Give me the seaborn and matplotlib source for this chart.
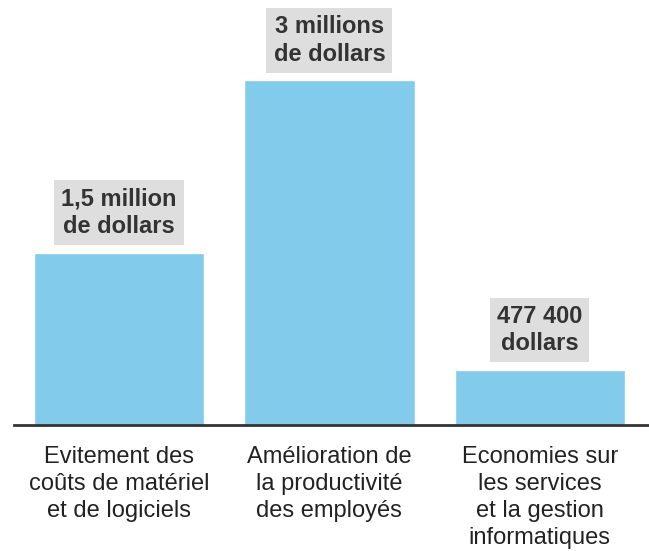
import matplotlib
matplotlib.use("Agg")
import matplotlib.pyplot as plt
import seaborn as sns
import pandas as pd

# data
categories = [
    "Evitement des\ncoûts de matériel\net de logiciels",
    "Amélioration de\nla productivité\ndes employés",
    "Economies sur\nles services\net la gestion\ninformatiques",
]
values = [1500000, 3000000, 477400]
value_labels = ["1,5 million\nde dollars", "3 millions\nde dollars", "477 400\ndollars"]

bar_color = "#82CBEB"
box_color = "#DEDEDE"
text_color = "#333333"

sns.set_theme(style="white")
plt.rcParams["font.family"] = ["Liberation Sans", "DejaVu Sans"]

df = pd.DataFrame({"category": categories, "value": values})

fig = plt.figure(figsize=(6.49, 5.51), dpi=100)
ax = fig.add_axes([14 / 649, 126 / 551, 635 / 649, 425 / 551])

sns.barplot(data=df, x="category", y="value", color=bar_color, saturation=1,
            width=0.81, ax=ax)

ax.set_xlim(-0.5, 2.52)
ax.set_ylim(0, 3.70e6)

# value labels in grey boxes above bars
for i, (v, lab) in enumerate(zip(values, value_labels)):
    ax.annotate(lab, xy=(i, v), xytext=(0, 40), textcoords="offset pixels",
                ha="center", va="center", ma="center", fontsize=17,
                fontweight="bold", color=text_color, linespacing=1.25,
                bbox=dict(boxstyle="square,pad=0.3", fc=box_color, ec="none"))

# axis cosmetics
for side in ["top", "right", "left"]:
    ax.spines[side].set_visible(False)
ax.spines["bottom"].set_color(text_color)
ax.spines["bottom"].set_linewidth(2)
ax.set_yticks([])
ax.set_xlabel("")
ax.set_ylabel("")
ax.set_xticks(range(len(categories)))
ax.set_xticklabels(categories, fontsize=17, color="#222222", linespacing=1.3)
ax.tick_params(axis="x", length=0, pad=15)

fig.savefig("out.png", dpi=100)
